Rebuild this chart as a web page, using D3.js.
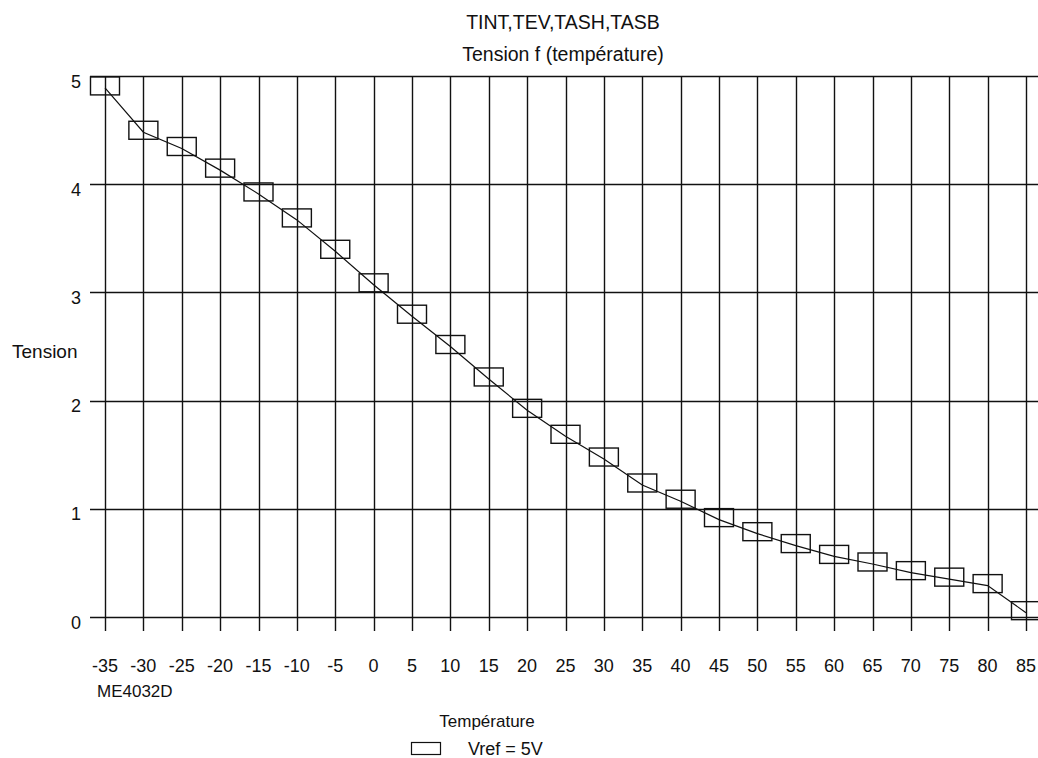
<!DOCTYPE html>
<html>
<head>
<meta charset="utf-8">
<script src="https://cdn.jsdelivr.net/npm/d3@7"></script>
<style>
  body { margin: 0; background: #fff; }
  text { font-family: "Liberation Sans", Arial, sans-serif; fill: #111; }
</style>
</head>
<body>
<div id="chart"></div>
<script>
'use strict'
// temperature categories (°C)
var temperatures = [-35, -30, -25, -20, -15, -10, -5, 0, 5, 10, 15, 20, 25, 30, 35, 40, 45, 50, 55, 60, 65, 70, 75, 80, 85];
// Vref = 5V series (volts)
var tension = [4.89, 4.48, 4.33, 4.13, 3.91, 3.67, 3.38, 3.07, 2.78, 2.50, 2.20, 1.91, 1.67, 1.46, 1.22, 1.07, 0.90, 0.77, 0.66, 0.56, 0.49, 0.41, 0.35, 0.29, 0.04];
var yTicks = [0, 1, 2, 3, 4, 5];
var titles = ["TINT,TEV,TASH,TASB", "Tension f (température)"];
var seriesName = "Vref = 5V";

var chart = (function(){
    var self = {}, _svg, _x, _y,
    W = 1038, H = 758,
    left = 90, right = 1038, top = 76, bottom = 617;

    var makeScales = function(){
        _x = d3.scalePoint().domain(temperatures).range([105, 1026]);
        _y = d3.scaleLinear().domain([0, 5]).range([bottom, top]);
    },

    //grid lines, vertical ones run past the axis as ticks
    drawGrid = function(){
        var g = _svg.append("g").attr("stroke", "#111").attr("stroke-width", 1.4);
        g.selectAll(".hline").data(yTicks).enter().append("line")
            .attr("x1", left).attr("x2", right)
            .attr("y1", function(d){ return Math.round(_y(d)) + 0.5; })
            .attr("y2", function(d){ return Math.round(_y(d)) + 0.5; });
        g.selectAll(".vline").data(temperatures).enter().append("line")
            .attr("x1", function(d){ return Math.round(_x(d)) + 0.5; })
            .attr("x2", function(d){ return Math.round(_x(d)) + 0.5; })
            .attr("y1", top).attr("y2", bottom + 14);
    },

    drawAxesLabels = function(){
        _svg.append("g").selectAll("text").data(yTicks).enter().append("text")
            .attr("x", 81).attr("y", function(d){ return _y(d) + 11.5; })
            .attr("text-anchor", "end").attr("font-size", 18)
            .text(function(d){ return d; });

        _svg.append("g").selectAll("text").data(temperatures).enter().append("text")
            .attr("x", function(d){ return _x(d); }).attr("y", 672)
            .attr("text-anchor", "middle").attr("font-size", 18)
            .text(function(d){ return d; });

        _svg.append("text").attr("x", 12).attr("y", 358).attr("font-size", 19).text("Tension");
        _svg.append("text").attr("x", 97).attr("y", 697).attr("font-size", 17).text("ME4032D");
        _svg.append("text").attr("x", 487).attr("y", 727).attr("text-anchor", "middle")
            .attr("font-size", 17).text("Température");

        _svg.selectAll(".title").data(titles).enter().append("text")
            .attr("x", 563).attr("y", function(d, i){ return 29 + i * 32; })
            .attr("text-anchor", "middle").attr("font-size", 19.5)
            .text(function(d){ return d; });
    },

    drawSeries = function(){
        var line = d3.line()
            .x(function(d, i){ return _x(temperatures[i]); })
            .y(function(d){ return _y(d); });

        _svg.append("path").datum(tension)
            .attr("d", line).attr("fill", "none")
            .attr("stroke", "#111").attr("stroke-width", 1.2);

        _svg.append("g").selectAll("rect").data(tension).enter().append("rect")
            .attr("x", function(d, i){ return _x(temperatures[i]) - 14.5; })
            .attr("y", function(d){ return _y(d) - 11; })
            .attr("width", 29).attr("height", 18)
            .attr("fill", "none").attr("stroke", "#111").attr("stroke-width", 1.4);
    },

    drawLegend = function(){
        _svg.append("rect").attr("x", 411.5).attr("y", 742.5).attr("width", 29).attr("height", 12)
            .attr("fill", "none").attr("stroke", "#111").attr("stroke-width", 1.2);
        _svg.append("text").attr("x", 468).attr("y", 755).attr("font-size", 18).text(seriesName);
    };

    self.init = function(placeHolder){
        _svg = d3.select(placeHolder).append("svg").attr("width", W).attr("height", H);
        makeScales();
        drawGrid();
        drawSeries();
        drawAxesLabels();
        drawLegend();
    };

    return self;
}());

chart.init("#chart");
</script>
</body>
</html>
